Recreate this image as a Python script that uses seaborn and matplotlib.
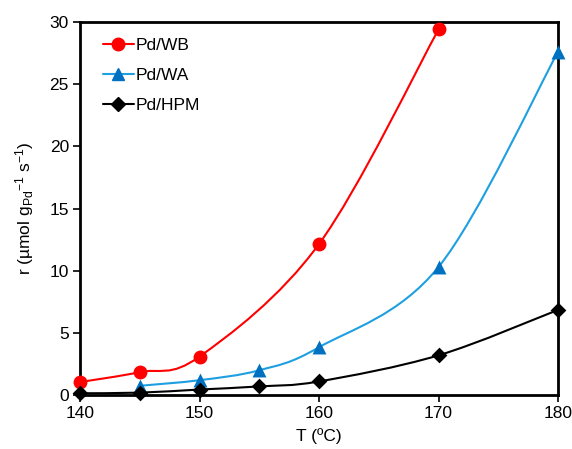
import numpy as np
import pandas as pd
import matplotlib
matplotlib.use('Agg')
import matplotlib.pyplot as plt
from matplotlib.path import Path
from matplotlib.patches import PathPatch
from matplotlib.lines import Line2D
import seaborn as sns

# data
temp_wb = [140, 145, 150, 160, 170]
rate_wb = [1.05, 1.85, 3.1, 12.15, 29.4]
temp_wa = [145, 150, 155, 160, 170, 180]
rate_wa = [0.75, 1.2, 2.0, 3.85, 10.3, 27.6]
temp_hpm = [140, 145, 150, 155, 160, 170, 180]
rate_hpm = [0.15, 0.2, 0.45, 0.7, 1.1, 3.2, 6.85]

series = [
    ('Pd/WB', temp_wb, rate_wb, '#FF0000', '#FF0000', 'o', 10),
    ('Pd/WA', temp_wa, rate_wa, '#1E9FE0', '#0070C0', '^', 10),
    ('Pd/HPM', temp_hpm, rate_hpm, '#000000', '#000000', 'D', 8),
]

sns.set_theme(style='white')
plt.rcParams['font.family'] = ['Liberation Sans', 'DejaVu Sans']
plt.rcParams['mathtext.fontset'] = 'custom'
plt.rcParams['mathtext.rm'] = 'Liberation Sans'
plt.rcParams['mathtext.it'] = 'Liberation Sans'
plt.rcParams['text.color'] = 'black'
plt.rcParams['axes.labelcolor'] = 'black'
plt.rcParams['xtick.color'] = 'black'
plt.rcParams['ytick.color'] = 'black'


def smooth_path(x, y):
    # Excel-like smoothed line: cubic Bezier with Catmull-Rom control points
    pts = np.column_stack([x, y]).astype(float)
    verts = [pts[0]]
    codes = [Path.MOVETO]
    n = len(pts)
    for i in range(n - 1):
        p0 = pts[max(i - 1, 0)]
        p1 = pts[i]
        p2 = pts[i + 1]
        p3 = pts[min(i + 2, n - 1)]
        c1 = p1 + (p2 - p0) / 6.0
        c2 = p2 - (p3 - p1) / 6.0
        verts += [c1, c2, p2]
        codes += [Path.CURVE4] * 3
    return Path(verts, codes)


fig = plt.figure(figsize=(5.72, 4.49), dpi=100)
ax = fig.add_axes([0.14, 0.12, 0.8355, 0.831])

handles = []
for name, xs, ys, lc, mc, mk, ms in series:
    ax.add_patch(PathPatch(smooth_path(xs, ys), facecolor='none', edgecolor=lc,
                           lw=1.5, zorder=2))
    df = pd.DataFrame({'T': xs, 'r': ys})
    sns.scatterplot(data=df, x='T', y='r', marker=mk, s=ms ** 2, color=mc,
                    edgecolor=mc, linewidth=0, zorder=3, clip_on=False, ax=ax)
    handles.append(Line2D([], [], color=lc, lw=1.5, marker=mk, markersize=ms * 0.9,
                          markerfacecolor=mc, markeredgecolor=mc, label=name))

ax.set_xlim(140, 180)
ax.set_ylim(0, 30)
ax.set_xticks([140, 150, 160, 170, 180])
ax.set_yticks([0, 5, 10, 15, 20, 25, 30])
ax.set_xlabel('T (ºC)', fontsize=12.5, labelpad=5)
ax.set_ylabel(r'r (µmol g$_{\mathrm{Pd}}$$^{-1}$ s$^{-1}$)', fontsize=12.5, labelpad=10)
ax.tick_params(axis='both', labelsize=12.5, direction='out', length=5, width=1.2,
               color='black', labelcolor='black', bottom=True, left=True, pad=3)
for sp in ax.spines.values():
    sp.set_color('black')
    sp.set_linewidth(2)

ax.legend(handles=handles, loc='upper left', frameon=False, fontsize=12.5,
          handlelength=1.8, handletextpad=0.1, labelspacing=0.85,
          bbox_to_anchor=(0.015, 1.0))

fig.savefig('out.png', dpi=100)
